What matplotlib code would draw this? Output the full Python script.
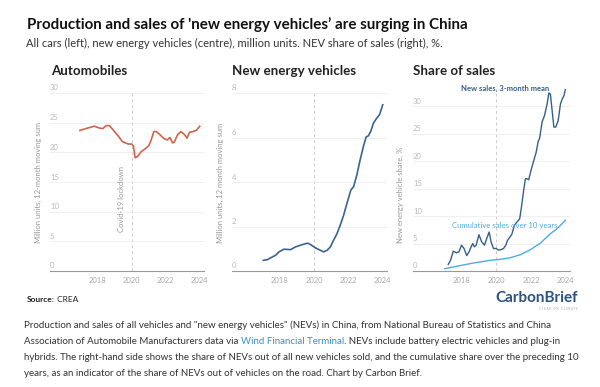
import matplotlib.pyplot as plt
import matplotlib.transforms as mtransforms

plt.rcParams['font.family'] = ['Lato', 'DejaVu Sans']

# all cars, million units, 12-month moving sum
auto_years = [2016.96, 2017.3, 2017.8, 2018.1, 2018.3, 2018.5, 2018.7, 2018.9, 2019.2,
              2019.45, 2019.8, 2020.0, 2020.1, 2020.2, 2020.35, 2020.55, 2020.75, 2021.0,
              2021.15, 2021.3, 2021.45, 2021.65, 2021.9, 2022.1, 2022.25, 2022.4, 2022.5,
              2022.7, 2022.9, 2023.1, 2023.25, 2023.4, 2023.6, 2023.8, 2024.0]
auto_vals = [23.7, 24.0, 24.4, 24.1, 24.0, 24.5, 24.5, 23.8, 22.8,
             21.8, 21.4, 21.4, 21.1, 19.1, 19.3, 20.1, 20.5, 21.1,
             22.1, 23.5, 23.5, 23.0, 22.3, 22.1, 22.5, 21.6, 21.7,
             23.0, 23.5, 23.0, 22.4, 23.4, 23.5, 23.7, 24.4]

# new energy vehicles, million units
nev_years = [2017.03, 2017.26, 2017.55, 2017.75, 2017.94, 2018.23, 2018.62, 2018.9, 2019.2,
             2019.5, 2019.63, 2019.78, 2020.07, 2020.36, 2020.55, 2020.75, 2020.94, 2021.13,
             2021.33, 2021.52, 2021.72, 2021.91, 2022.14, 2022.3, 2022.49, 2022.68, 2022.88,
             2023.03, 2023.17, 2023.3, 2023.46, 2023.65, 2023.81, 2023.94, 2024.0]
nev_vals = [0.48, 0.51, 0.63, 0.71, 0.86, 0.98, 0.96, 1.08, 1.16,
            1.23, 1.25, 1.19, 1.04, 0.93, 0.86, 0.93, 1.08, 1.38,
            1.68, 2.06, 2.51, 3.04, 3.64, 3.79, 4.32, 4.99, 5.62,
            6.02, 6.08, 6.27, 6.65, 6.87, 7.02, 7.32, 7.47]

# NEV share of new sales, 3-month mean, %
share_years = [2017.23, 2017.36, 2017.52, 2017.6, 2017.7, 2017.85, 2018.0, 2018.14, 2018.3,
               2018.43, 2018.55, 2018.64, 2018.74, 2018.84, 2019.0, 2019.16, 2019.32, 2019.45,
               2019.59, 2019.7, 2019.84, 2019.99, 2020.13, 2020.28, 2020.42, 2020.55, 2020.65,
               2020.77, 2020.9, 2021.04, 2021.19, 2021.35, 2021.45, 2021.58, 2021.68, 2021.77,
               2021.87, 2022.0, 2022.16, 2022.3, 2022.41, 2022.5, 2022.64, 2022.78, 2022.93,
               2023.03, 2023.12, 2023.22, 2023.32, 2023.43, 2023.57, 2023.7, 2023.8, 2023.9,
               2023.98]
share_vals = [1.2, 1.9, 3.6, 3.5, 3.3, 3.5, 4.7, 4.1, 2.8,
              3.5, 4.4, 5.0, 4.4, 4.7, 6.6, 5.3, 4.7, 5.9,
              7.1, 5.3, 4.1, 4.1, 3.8, 3.9, 4.1, 4.7, 5.6,
              6.1, 6.7, 8.3, 8.9, 9.5, 11.6, 14.7, 16.8, 16.8,
              16.6, 18.3, 20.1, 21.6, 23.5, 24.2, 27.1, 28.3, 30.4,
              32.4, 32.2, 29.2, 26.2, 26.2, 27.4, 30.4, 31.3, 31.9,
              33.0]

# cumulative share over 10 years, %
cum_years = [2017.03, 2017.7, 2018.68, 2019.65, 2020.23, 2020.81, 2021.39, 2021.97,
             2022.55, 2023.12, 2023.5, 2023.98]
cum_vals = [0.42, 0.85, 1.45, 1.94, 2.12, 2.42, 2.97, 3.88, 5.09, 6.79, 7.7, 9.2]

years_ticks = [2018, 2020, 2022, 2024]

fig = plt.figure(figsize=(6, 3.87), dpi=100)
W, H = 600, 387


def make_axes(left, right):
    return fig.add_axes([left / W, 1 - 271 / H, (right - left) / W, 178 / H])


def style(ax, ylim, yticks, ylabel):
    ax.set_xlim(2015.2, 2024.25)
    ax.set_ylim(*ylim)
    ax.set_xticks(years_ticks)
    ax.tick_params(axis='x', length=0, labelsize=5.5, labelcolor='#aaaaaa', pad=4)
    ax.set_yticks(yticks)
    ax.set_yticklabels([])
    ax.tick_params(axis='y', length=0)
    ax.grid(axis='y', color='#eeeeee', lw=0.6)
    ax.set_axisbelow(True)
    for s in ['top', 'right', 'left']:
        ax.spines[s].set_visible(False)
    ax.spines['bottom'].set_color('#999999')
    ax.spines['bottom'].set_linewidth(0.8)
    tr = mtransforms.offset_copy(ax.get_yaxis_transform(), fig=fig, y=1.5, units='dots')
    for t in yticks:
        ax.text(0, t, str(t), transform=tr, ha='left', va='bottom',
                fontsize=5.5, color='#bbbbbb')
    ax.axvline(2020, color='#cccccc', ls=(0, (3, 3)), lw=0.7, zorder=0)
    ax.text(-12 / 155, 0.157, ylabel, transform=ax.transAxes, rotation=90,
            ha='center', va='bottom', fontsize=5.5, color='#999999')


ax1 = make_axes(50, 204)
style(ax1, (0, 30), [0, 5, 10, 15, 20, 25, 30], 'Million units, 12-month moving sum')
ax1.plot(auto_years, auto_vals, color='#d0644c', lw=1.2)
ax1.text(2019.4, 12.1, 'Covid-19 lockdown', rotation=90, ha='center', va='center',
         fontsize=5.5, color='#999999')

ax2 = make_axes(232, 387)
style(ax2, (0, 8), [0, 2, 4, 6, 8], 'Million units, 12 month moving sum')
ax2.plot(nev_years, nev_vals, color='#3b6391', lw=1.2)

ax3 = make_axes(413, 570)
style(ax3, (0, 32.4), [0, 5, 10, 15, 20, 25, 30], 'New energy vehicle share, %')
ax3.plot(share_years, share_vals, color='#35608c', lw=1.0, clip_on=False)
ax3.plot(cum_years, cum_vals, color='#4aaee0', lw=1.0)
ax3.text(2023.02, 33.3, 'New sales, 3-month mean', ha='right', va='center',
         fontsize=5.5, color='#35608c', weight='bold')
ax3.text(2020.46, 8.2, 'Cumulative sales over 10 years', ha='center', va='center',
         fontsize=5.6, color='#4aaee0')

# panel titles
for x, t in [(51, 'Automobiles'), (232, 'New energy vehicles'), (413, 'Share of sales')]:
    fig.text(x / W, 1 - 71 / H, t, fontsize=9.6, weight='bold', color='#222222', va='center')

fig.text(27 / W, 1 - 25 / H, "Production and sales of 'new energy vehicles\u2019 are surging in China",
         fontsize=10.9, weight='bold', color='#111111', va='center')
fig.text(26 / W, 1 - 43 / H, 'All cars (left), new energy vehicles (centre), million units. NEV share of sales (right), %.',
         fontsize=8, color='#333333', va='center')

# source and logo
src = fig.text(27 / W, 1 - 299 / H, 'Source:', fontsize=6, weight='bold', color='#222222', va='center')
plt.annotate(' CREA', xy=(1, 0), xycoords=src, va='bottom', ha='left',
             fontsize=6, color='#222222')

fig.text(578 / W, 1 - 298 / H, 'CarbonBrief', fontsize=11, weight='bold', color='#2c5282',
         ha='right', va='center')
fig.text(578 / W, 1 - 309 / H, 'C L E A R   O N   C L I M A T E', fontsize=2.2, color='#99a6b5',
         ha='right', va='center')

cap_color = '#333333'
cap_size = 7.0
fig.text(24 / W, 1 - 325 / H,
         'Production and sales of all vehicles and "new energy vehicles" (NEVs) in China, from National Bureau of Statistics and China',
         fontsize=cap_size, color=cap_color, va='center')
p1 = fig.text(24 / W, 1 - 341 / H, 'Association of Automobile Manufacturers data via ',
              fontsize=cap_size, color=cap_color, va='center')
p2 = plt.annotate('Wind Financial Terminal', xy=(1, 0), xycoords=p1, va='bottom', ha='left',
                  fontsize=cap_size, color='#3a8fd0')
plt.annotate('. NEVs include battery electric vehicles and plug-in', xy=(1, 0), xycoords=p2,
             va='bottom', ha='left', fontsize=cap_size, color=cap_color)
fig.text(24 / W, 1 - 357 / H,
         'hybrids. The right-hand side shows the share of NEVs out of all new vehicles sold, and the cumulative share over the preceding 10',
         fontsize=cap_size, color=cap_color, va='center')
fig.text(24 / W, 1 - 373 / H,
         'years, as an indicator of the share of NEVs out of vehicles on the road. Chart by Carbon Brief.',
         fontsize=cap_size, color=cap_color, va='center')

fig.savefig('out.png', dpi=100)
